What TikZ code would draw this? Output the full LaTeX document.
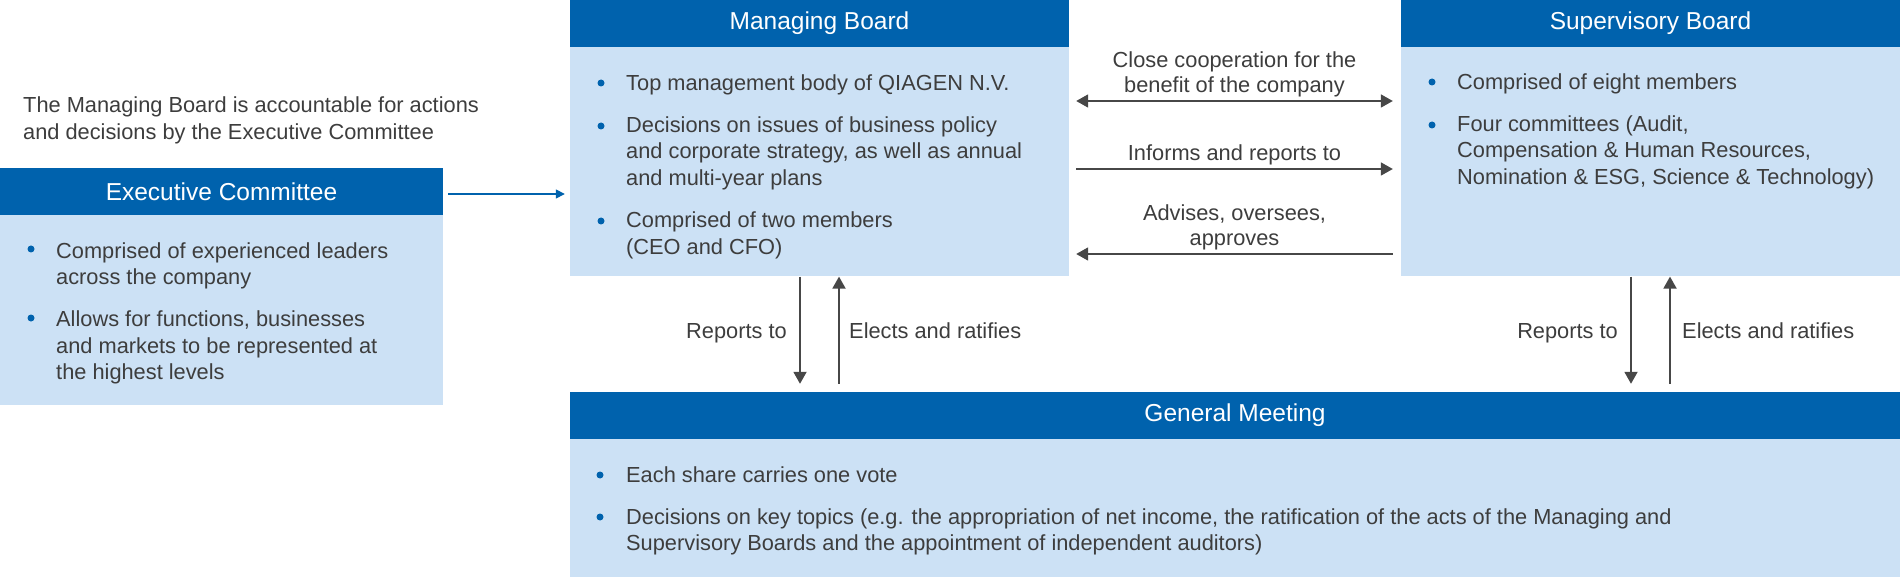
\documentclass[tikz,border=0pt]{standalone}
\usepackage{fontspec}
\setmainfont{Liberation Sans}
\usepackage{tikz}
\usetikzlibrary{arrows.meta,positioning}
\definecolor{qblue}{HTML}{0062AD}
\definecolor{qlight}{HTML}{CCE1F5}
\definecolor{qtext}{HTML}{3D3D3D}
\definecolor{qarrow}{HTML}{474747}
\tikzset{
  head/.style={fill=qblue, text=white, inner sep=0pt, minimum height=47pt,
    font=\fontsize{24.5}{28}\selectfont},
  panel/.style={fill=qlight, inner sep=0pt},
  txt/.style={text=qtext, inner sep=0pt, align=left, anchor=base west,
    font=\fontsize{21.8}{26.5}\selectfont},
  lbl/.style={text=qtext, inner sep=0pt, align=center, anchor=base,
    font=\fontsize{21.8}{25}\selectfont},
  dot/.style={circle, fill=qblue, inner sep=0pt, minimum size=7pt},
  garrow/.style={draw=qarrow, line width=1.8pt, -{Triangle[length=12pt,width=13pt]}},
  gboth/.style={draw=qarrow, line width=1.8pt, {Triangle[length=12pt,width=13pt]}-{Triangle[length=12pt,width=13pt]}},
  barrow/.style={draw=qblue, line width=1.5pt, -{Triangle[length=9pt,width=9pt]}}
}
\begin{document}
\begin{tikzpicture}[x=1pt,y=-1pt]
\useasboundingbox (0,0) rectangle (1900,577);
%%Boxes
\node[head, minimum width=443pt] (exhead) at (221.5,191.5) {Executive Committee};
\node[panel, minimum width=443pt, minimum height=190pt, below=0pt of exhead] (exbody) {};
\node[head, minimum width=499pt] (mbhead) at (819.5,23.5) {Managing Board};
\node[panel, minimum width=499pt, minimum height=229pt, below=0pt of mbhead] (mbbody) {};
\node[head, minimum width=499pt] (sbhead) at (1650.5,23.5) {Supervisory Board};
\node[panel, minimum width=499pt, minimum height=229pt, below=0pt of sbhead] (sbbody) {};
\node[head, minimum width=1330pt] (gmhead) at (1235,415.5) {General Meeting};
\node[panel, minimum width=1330pt, minimum height=138pt, below=0pt of gmhead] (gmbody) {};

%%Bullets
\foreach \y [count=\i] in {249,318} \node[dot] (exdot\i) at (31,\y) {};
\foreach \y [count=\i] in {83,126,221} \node[dot] (mbdot\i) at (601,\y) {};
\foreach \y [count=\i] in {82,125} \node[dot] (sbdot\i) at (1432,\y) {};
\foreach \y [count=\i] in {475,517} \node[dot] (gmdot\i) at (600,\y) {};

%%Text (base = last line)
\node[txt] (note) at (23,139.5) {The Managing Board is accountable for actions\\and decisions by the Executive Committee};
\node[txt] (ex1) at (56,284.5) {Comprised of experienced leaders\\across the company};
\node[txt] (ex2) at (56,379.5) {Allows for functions, businesses\\and markets to be represented at\\the highest levels};
\node[txt] (mb1) at (626,90.5) {Top management body of QIAGEN N.V.};
\node[txt] (mb2) at (626,185.5) {Decisions on issues of business policy\\and corporate strategy, as well as annual\\and multi-year plans};
\node[txt] (mb3) at (626,254.5) {Comprised of two members\\(CEO and CFO)};
\node[txt] (sb1) at (1457,89.5) {Comprised of eight members};
\node[txt] (sb2) at (1457,184.5) {Four committees (Audit,\\Compensation \& Human Resources,\\Nomination \& ESG, Science \& Technology)};
\node[txt] (gm1) at (626,482.5) {Each share carries one vote};
\node[txt] (gm2) at (626,550.5) {Decisions on key topics (e.g. the appropriation of net income, the ratification of the acts of the Managing and\\Supervisory Boards and the appointment of independent auditors)};

%%Arrows
\draw[barrow, shorten <=5pt, shorten >=5pt] (exhead.east |- 0,194) -- (mbbody.west |- 0,194);
\draw[gboth, shorten <=7pt, shorten >=8pt] (mbbody.east |- 0,101) -- (sbbody.west |- 0,101);
\draw[garrow, shorten <=7pt, shorten >=8pt] (mbbody.east |- 0,169) -- (sbbody.west |- 0,169);
\draw[garrow, shorten <=8pt, shorten >=7pt] (sbbody.west |- 0,254) -- (mbbody.east |- 0,254);
\draw[garrow, shorten >=8pt] (mbbody.south -| 800,0) -- (gmhead.north -| 800,0);
\draw[garrow, shorten <=8pt] (gmhead.north -| 839,0) -- (mbbody.south -| 839,0);
\draw[garrow, shorten >=8pt] (sbbody.south -| 1631,0) -- (gmhead.north -| 1631,0);
\draw[garrow, shorten <=8pt] (gmhead.north -| 1670,0) -- (sbbody.south -| 1670,0);

%%Label
\node[lbl] (coop) at (1234.5,92.5) {Close cooperation for the\\benefit of the company};
\node[lbl] (inform) at (1234.5,160.5) {Informs and reports to};
\node[lbl] (advise) at (1234.5,245.5) {Advises, oversees,\\approves};
\node[txt, anchor=base east] (mbrep) at (787,338.5) {Reports to};
\node[txt] (mbelect) at (849,338.5) {Elects and ratifies};
\node[txt, anchor=base east] (sbrep) at (1618,338.5) {Reports to};
\node[txt] (sbelect) at (1682,338.5) {Elects and ratifies};
\end{tikzpicture}
\end{document}
